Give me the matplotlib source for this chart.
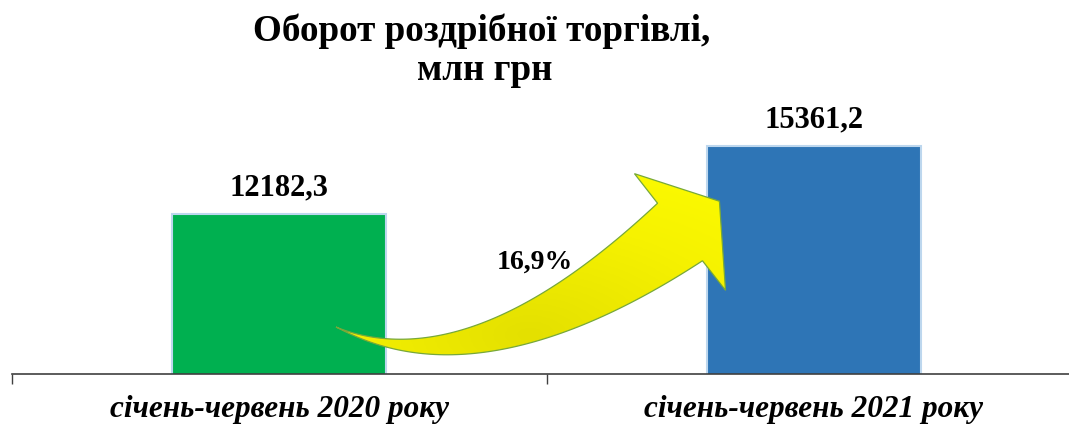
import matplotlib

matplotlib.use("Agg")
import matplotlib.pyplot as plt
from matplotlib.patches import Polygon
from matplotlib.colors import LinearSegmentedColormap
import numpy as np

# data
periods = ['січень-червень 2020 року', 'січень-червень 2021 року']
turnover = [12182.3, 15361.2]
growth = 16.9
bar_colors = ['#00B050', '#2E75B6']

plt.rcParams['font.family'] = ['Liberation Serif', 'DejaVu Serif']

W, H = 1069, 430
fig = plt.figure(figsize=(W / 100, H / 100), dpi=100)
# the category axis runs a little past the right edge of the picture
ax = fig.add_axes([12 / W, 56 / H, 1069 / W, 354 / H])

x = np.arange(len(periods))
ax.bar(x, turnover, width=0.4, color=bar_colors, edgecolor='#BDD7EE',
       linewidth=1.5, zorder=2)
ax.set_xlim(-0.5, len(periods) - 0.5)
ax.set_ylim(4700, 21250)

for xi, v in zip(x, turnover):
    ax.annotate(f"{v:.1f}".replace('.', ','), (xi, v), xytext=(0, 13.5),
                textcoords='offset points', ha='center', va='baseline',
                fontsize=22, fontweight='bold')

ax.set_xticks(x)
ax.set_xticklabels(periods, fontsize=22.5, fontweight='bold', style='italic')
ax.set_xticks(np.arange(len(periods) + 1) - 0.5, minor=True)
ax.tick_params(axis='x', which='major', length=0, pad=15)
ax.tick_params(axis='x', which='minor', length=7, width=1, color='#404040')
ax.set_yticks([])
for s in ['top', 'right', 'left']:
    ax.spines[s].set_visible(False)
ax.spines['bottom'].set_color('#404040')
ax.spines['bottom'].set_linewidth(1.2)

# curved growth arrow, built in axes-pixel space
aw, ah = 1069.0, 354.0


def px(xp, yp):
    # picture pixel -> axes-pixel (y up, origin at axis line)
    return np.array([xp - 12.0, 374.0 - yp])


p0 = px(336, 327)
p1 = px(475, 392)
p2 = px(680, 232)
t = np.linspace(0, 1, 80)[:, None]
curve = (1 - t) ** 2 * p0 + 2 * (1 - t) * t * p1 + t ** 2 * p2
tang = 2 * (1 - t) * (p1 - p0) + 2 * t * (p2 - p1)
tang = tang / np.linalg.norm(tang, axis=1)[:, None]
norm = np.column_stack([-tang[:, 1], tang[:, 0]])
half = 36.5 * t ** 1.25
upper = curve + norm * half
lower = curve - norm * half
d = tang[-1]
n = norm[-1]
tip = p2 + d * 50
barb_u = p2 + n * 74
barb_l = p2 - n * 74
pts = np.vstack([lower, [barb_l], [tip], [barb_u], upper[::-1]])
pts = pts / [aw, ah]

gx, gy = np.meshgrid(np.linspace(0, 1, 300), np.linspace(0, 1, 200))
cx, cy = (530 - 12) / aw, (374 - 335) / ah
dist = np.sqrt(((gx - cx) * 2.5) ** 2 + ((gy - cy) * 1.6) ** 2)
shade = np.clip(1 - dist, 0, 1)
cmap = LinearSegmentedColormap.from_list('yel', ['#FFFF00', '#F6F200', '#E4E000'])
img = ax.imshow(shade, cmap=cmap, extent=[0, 1, 0, 1], origin='lower',
                transform=ax.transAxes, aspect='auto', zorder=3,
                interpolation='bilinear')
fill = Polygon(pts, closed=True, transform=ax.transAxes, facecolor='none',
               edgecolor='none')
ax.add_patch(fill)
img.set_clip_path(fill)
arrow = Polygon(pts, closed=True, transform=ax.transAxes, facecolor='none',
                edgecolor='#77A83A', linewidth=0.9, zorder=4)
ax.add_patch(arrow)
ax.set_xlim(-0.5, len(periods) - 0.5)
ax.set_ylim(4700, 21250)

ax.text((535 - 12) / aw, (374 - 269) / ah, f"{growth:.1f}%".replace('.', ','),
        transform=ax.transAxes, ha='center', va='baseline', fontsize=20,
        fontweight='bold', zorder=5)

fig.text(482 / W, 1 - 41 / H, 'Оборот роздрібної торгівлі,', ha='center',
         va='baseline', fontsize=26.7, fontweight='bold')
fig.text(485 / W, 1 - 80 / H, 'млн грн', ha='center', va='baseline',
         fontsize=26.7, fontweight='bold')

fig.savefig('out.png', dpi=100)
